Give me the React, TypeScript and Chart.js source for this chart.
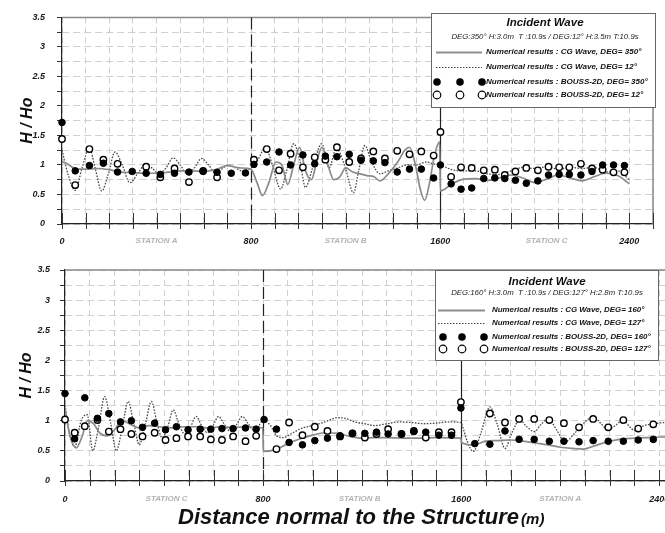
import React, { useEffect, useRef } from 'react';
import { Chart, registerables } from 'chart.js';

Chart.register(...registerables);

const FONT = '"Liberation Sans", Arial, Helvetica, sans-serif';

// ---------- shared ----------
const xTickLabels = [0, 800, 1600, 2400];
const dividers = [800, 1600];
const legendTitle = 'Incident Wave';

// ---------- panel 1 (top) ----------
const p1Stations = ['STATION A', 'STATION B', 'STATION C'];
const p1StationX = [400, 1200, 2050];
const p1LegendSub = 'DEG:350° H:3.0m  T :10.9s / DEG:12° H:3.5m T:10.9s';
const p1LegendLabels = [
  'Numerical results : CG Wave, DEG= 350°',
  'Numerical results : CG Wave, DEG= 12°',
  'Numerical results : BOUSS-2D, DEG= 350°',
  'Numerical results : BOUSS-2D, DEG= 12°',
];

const p1SolidX = [0, 30, 60, 100, 150, 200, 250, 300, 350, 400, 450, 500, 550, 600, 650, 700, 750, 799,
  825, 848, 875, 905, 930, 955, 980, 1005, 1030, 1055, 1080, 1100, 1125, 1150, 1175, 1200, 1230, 1260, 1290, 1320, 1345, 1380, 1420, 1450, 1470, 1495, 1515, 1534, 1555, 1575, 1597,
  1601, 1650, 1700, 1750, 1800, 1850, 1900, 1950, 2000, 2050, 2100, 2150, 2200, 2250, 2300, 2350, 2400];
const p1SolidY = [1.06, 1.0, 0.93, 0.93, 0.94, 0.92, 0.88, 0.87, 0.86, 0.86, 0.88, 0.9, 0.9, 0.89, 0.92, 0.99, 0.95, 0.93,
  0.7, 0.48, 0.7, 1.05, 1.0, 0.67, 1.0, 1.3, 0.9, 0.75, 1.1, 1.3, 1.0, 0.75, 0.8, 0.95, 0.88, 0.85, 0.82, 0.8, 0.73, 0.85, 1.05, 1.25, 1.3, 1.0, 0.6, 0.4, 0.7, 1.15, 1.39,
  0.56, 0.68, 0.76, 0.77, 0.74, 0.78, 0.83, 0.78, 0.7, 0.76, 0.83, 0.78, 0.73, 0.8, 0.86, 0.82, 0.68];

const p1DottedX = [0, 25, 56, 85, 116, 140, 168, 196, 224, 255, 287, 320, 350, 380, 410, 440, 470, 500, 530, 560, 590, 620, 645, 675, 702, 735, 760, 799,
  830, 860, 890, 925, 950, 980, 1005, 1030, 1060, 1099, 1130, 1160, 1195, 1233, 1255, 1281, 1310, 1345, 1380, 1420, 1460, 1500, 1540, 1570, 1599,
  1650, 1700, 1750, 1800, 1850, 1900, 1950, 2000, 2050, 2100, 2150, 2200, 2250, 2300, 2350, 2400];
const p1DottedY = [1.25, 0.85, 0.57, 0.95, 1.29, 0.95, 0.56, 0.85, 1.22, 1.0, 0.7, 0.85, 1.0, 0.95, 0.85, 0.95, 1.12, 1.0, 0.85, 0.95, 1.11, 1.0, 0.88, 0.93, 1.0, 0.95, 0.9, 0.95,
  1.1, 1.3, 1.0, 0.59, 0.9, 1.36, 1.1, 0.62, 0.95, 1.36, 0.95, 1.28, 1.0, 0.53, 0.9, 1.33, 1.05, 0.85, 0.9, 0.95, 1.0, 1.0, 1.05, 1.02, 1.0,
  0.92, 0.9, 0.9, 0.85, 0.84, 0.9, 0.96, 0.94, 0.97, 0.93, 0.96, 0.94, 0.96, 0.88, 0.9, 0.75];

const p1FilledX = [0, 56, 116, 175, 235, 297, 356, 416, 476, 537, 597, 656, 716, 776,
  812, 866, 918, 967, 1019, 1069, 1114, 1163, 1215, 1265, 1317, 1366, 1418, 1470, 1520, 1572, 1601,
  1646, 1688, 1733, 1784, 1831, 1873, 1918, 1964, 2013, 2058, 2103, 2146, 2195, 2242, 2287, 2333, 2379];
const p1FilledY = [1.72, 0.9, 0.99, 1.03, 0.88, 0.89, 0.86, 0.84, 0.86, 0.88, 0.89, 0.875, 0.86, 0.865,
  1.01, 1.05, 1.22, 1.0, 1.17, 1.02, 1.15, 1.14, 1.18, 1.08, 1.07, 1.04, 0.88, 0.93, 0.93, 0.78, 1.0,
  0.68, 0.59, 0.61, 0.77, 0.78, 0.77, 0.74, 0.69, 0.73, 0.83, 0.84, 0.84, 0.83, 0.89, 1.0, 1.0, 0.99];

const p1OpenX = [0, 56, 116, 175, 235, 356, 416, 476, 537, 597, 656,
  812, 866, 918, 967, 1019, 1069, 1114, 1163, 1215, 1265, 1317, 1366, 1418, 1470, 1520, 1572, 1601,
  1646, 1688, 1733, 1784, 1831, 1873, 1918, 1964, 2013, 2058, 2103, 2146, 2195, 2242, 2287, 2333, 2379];
const p1OpenY = [1.44, 0.66, 1.27, 1.09, 1.02, 0.97, 0.79, 0.94, 0.71, 0.9, 0.79,
  1.09, 1.27, 0.91, 1.19, 0.96, 1.13, 1.09, 1.3, 1.05, 1.11, 1.23, 1.11, 1.24, 1.18, 1.23, 1.16, 1.56,
  0.8, 0.96, 0.95, 0.91, 0.92, 0.83, 0.89, 0.95, 0.91, 0.97, 0.96, 0.96, 1.02, 0.94, 0.92, 0.875, 0.875];

// ---------- panel 2 (bottom) ----------
const p2Stations = ['STATION C', 'STATION B', 'STATION A'];
const p2StationX = [410, 1190, 2000];
const p2LegendSub = 'DEG:160° H:3.0m  T :10.9s / DEG:127° H:2.8m T:10.9s';
const p2LegendLabels = [
  'Numerical results : CG Wave, DEG= 160°',
  'Numerical results : CG Wave, DEG= 127°',
  'Numerical results : BOUSS-2D, DEG= 160°',
  'Numerical results : BOUSS-2D, DEG= 127°',
];

const p2SolidX = [0, 20, 46, 70, 90, 115, 140, 170, 200, 230, 260, 300, 340, 380, 430, 480, 530, 580, 630, 680, 730, 799,
  801, 850, 900, 950, 1000, 1050, 1100, 1150, 1200, 1250, 1300, 1400, 1500, 1599,
  1601, 1649, 1700, 1743, 1800, 1850, 1900, 1950, 2000, 2050, 2093, 2150, 2200, 2250, 2300, 2350, 2400, 2460];
const p2SolidY = [1.2, 0.75, 0.55, 0.75, 1.0, 0.95, 0.8, 0.75, 0.85, 1.0, 0.95, 0.88, 0.92, 0.9, 0.88, 0.9, 0.9, 0.88, 0.9, 0.89, 0.9, 0.88,
  0.49, 0.52, 0.62, 0.7, 0.76, 0.8, 0.79, 0.74, 0.71, 0.72, 0.72, 0.71, 0.72, 0.71,
  0.64, 0.6, 0.66, 0.67, 0.68, 0.66, 0.63, 0.6, 0.56, 0.54, 0.53, 0.6, 0.66, 0.7, 0.71, 0.72, 0.73, 0.73];

const p2DottedX = [0, 20, 40, 65, 90, 112, 136, 160, 185, 207, 232, 255, 278, 300, 325, 349, 370, 392, 415, 437, 460, 483, 507, 530, 552, 575, 598, 620, 645, 668, 692, 716, 740, 760, 780, 799,
  801, 830, 854, 880, 920, 960, 1000, 1050, 1100, 1130, 1170, 1210, 1250, 1300, 1350, 1400, 1450, 1500, 1550, 1599,
  1601, 1625, 1649, 1680, 1716, 1745, 1777, 1805, 1837, 1865, 1895, 1925, 1952, 1985, 2019, 2060, 2100, 2133, 2165, 2194, 2225, 2255, 2280, 2300, 2340, 2376, 2420];
const p2DottedY = [1.25, 0.75, 0.57, 1.0, 1.1, 0.5, 0.9, 1.4, 0.95, 0.5, 0.9, 1.32, 0.95, 0.6, 0.95, 1.32, 1.0, 0.72, 0.9, 1.18, 0.95, 0.78, 0.9, 1.07, 0.92, 0.8, 0.92, 1.07, 0.93, 0.82, 0.93, 1.07, 0.95, 0.85, 0.9, 1.0,
  1.0, 0.92, 0.75, 0.72, 0.8, 0.88, 0.92, 0.98, 1.05, 1.04, 0.98, 0.95, 0.92, 0.95, 0.98, 0.97, 0.95, 0.96, 0.98, 0.97,
  0.96, 0.65, 0.49, 0.8, 1.23, 0.95, 0.54, 0.8, 1.01, 0.9, 0.82, 0.95, 1.03, 0.85, 0.65, 0.8, 0.98, 1.07, 0.95, 0.85, 0.93, 1.01, 0.9, 0.84, 0.92, 0.95, 0.97];

const p2FilledX = [0, 39, 80, 131, 177, 224, 268, 313, 362, 406, 450, 497, 546, 589, 634, 679, 729, 772,
  804, 854, 905, 959, 1009, 1060, 1111, 1161, 1211, 1258, 1305, 1359, 1409, 1457, 1510, 1561, 1599,
  1655, 1716, 1777, 1834, 1895, 1956, 2015, 2076, 2133, 2194, 2255, 2315, 2376];
const p2FilledY = [1.45, 0.7, 1.38, 1.04, 1.12, 0.98, 1.0, 0.89, 0.96, 0.85, 0.9, 0.85, 0.86, 0.86, 0.87, 0.87, 0.88, 0.86,
  1.02, 0.86, 0.64, 0.6, 0.67, 0.71, 0.75, 0.79, 0.79, 0.81, 0.78, 0.78, 0.82, 0.81, 0.76, 0.76, 1.21,
  0.62, 0.61, 0.83, 0.69, 0.69, 0.66, 0.66, 0.65, 0.67, 0.66, 0.66, 0.68, 0.69];

const p2OpenX = [0, 39, 80, 131, 177, 224, 268, 313, 362, 406, 450, 497, 546, 589, 634, 679, 729, 772,
  854, 905, 959, 1009, 1060, 1111, 1161, 1211, 1258, 1305, 1359, 1409, 1457, 1510, 1561, 1599,
  1716, 1777, 1834, 1895, 1956, 2015, 2076, 2133, 2194, 2255, 2315, 2376];
const p2OpenY = [1.02, 0.8, 0.91, 1.01, 0.82, 0.86, 0.78, 0.74, 0.8, 0.68, 0.71, 0.74, 0.74, 0.69, 0.68, 0.74, 0.66, 0.75,
  0.53, 0.97, 0.76, 0.9, 0.83, 0.74, 0.79, 0.72, 0.78, 0.86, 0.78, 0.83, 0.72, 0.81, 0.81, 1.31,
  1.12, 0.97, 1.03, 1.03, 1.01, 0.96, 0.89, 1.03, 0.89, 1.01, 0.87, 0.94];

// ---------- helpers ----------
const pts = (xs: number[], ys: number[]) => xs.map((x, i) => ({ x, y: ys[i] }));

type Panel = {
  width: number; height: number;
  axisW: number; xAxisH: number; padTop: number; padRight: number;
  yLabelPad: number; yTitlePad: number; xLabelPad: number; stationDy: number;
  stations: string[]; stationX: number[];
  sub: string; labels: string[];
  legend: any;
  solid: { x: number; y: number }[]; dotted: { x: number; y: number }[];
  filled: { x: number; y: number }[]; open: { x: number; y: number }[];
};

const panel1: Panel = {
  width: 665, height: 250, axisW: 62, xAxisH: 26, padTop: 12, padRight: 8,
  yLabelPad: 12, yTitlePad: 18, xLabelPad: 12, stationDy: 17,
  stations: p1Stations, stationX: p1StationX, sub: p1LegendSub, labels: p1LegendLabels,
  legend: { x: 431, y: 13, w: 224, h: 94, titleX: 114, titleY: 10, subX: 114, subY: 24, rowY: [39, 54, 69, 82], lineX1: 5, lineX2: 51, dotX: [6, 29, 51], textX: 55, textSize: 8.05 },
  solid: pts(p1SolidX, p1SolidY), dotted: pts(p1DottedX, p1DottedY),
  filled: pts(p1FilledX, p1FilledY), open: pts(p1OpenX, p1OpenY),
};

const panel2: Panel = {
  width: 700, height: 283, axisW: 65, xAxisH: 52, padTop: 20, padRight: 16,
  yLabelPad: 10, yTitlePad: 17, xLabelPad: 13, stationDy: 18,
  stations: p2Stations, stationX: p2StationX, sub: p2LegendSub, labels: p2LegendLabels,
  legend: { x: 435, y: 20, w: 223, h: 90, titleX: 112, titleY: 12, subX: 112, subY: 23, rowY: [40, 53, 67, 79], lineX1: 3, lineX2: 50, dotX: [8, 27, 49], textX: 57, textSize: 7.9 },
  solid: pts(p2SolidX, p2SolidY), dotted: pts(p2DottedX, p2DottedY),
  filled: pts(p2FilledX, p2FilledY), open: pts(p2OpenX, p2OpenY),
};

function makePlugin(p: Panel) {
  return {
    id: 'decor',
    beforeDatasetsDraw(chart: any) {
      const { ctx, chartArea: a, scales } = chart;
      const xs = scales.x;
      ctx.save();
      // top / right frame
      ctx.strokeStyle = '#8a8a8a';
      ctx.lineWidth = 1.5;
      ctx.beginPath();
      ctx.moveTo(a.left, a.top);
      ctx.lineTo(a.right, a.top);
      ctx.lineTo(a.right, a.bottom);
      ctx.stroke();
      // station dividers
      dividers.forEach((v, i) => {
        const px = Math.round(xs.getPixelForValue(v)) + 0.5;
        ctx.strokeStyle = '#222';
        ctx.lineWidth = 1.2;
        ctx.setLineDash(i === 0 ? [12, 5] : []);
        ctx.beginPath();
        ctx.moveTo(px, a.top);
        ctx.lineTo(px, a.bottom);
        ctx.stroke();
      });
      ctx.setLineDash([]);
      // crossing ticks on x axis
      ctx.strokeStyle = '#333';
      ctx.lineWidth = 1;
      xs.ticks.forEach((t: any) => {
        const px = Math.round(xs.getPixelForValue(t.value)) + 0.5;
        ctx.beginPath();
        ctx.moveTo(px, a.bottom - 11);
        ctx.lineTo(px, a.bottom + 5);
        ctx.stroke();
      });
      ctx.restore();
    },
    afterDraw(chart: any) {
      const { ctx, chartArea: a, scales } = chart;
      const xs = scales.x;
      ctx.save();
      // station labels
      ctx.fillStyle = '#b3b3b3';
      ctx.font = `italic bold 8px ${FONT}`;
      ctx.textAlign = 'center';
      ctx.textBaseline = 'middle';
      p.stations.forEach((s, i) => {
        ctx.fillText(s, xs.getPixelForValue(p.stationX[i]), a.bottom + p.stationDy);
      });
      // legend box
      const L = p.legend;
      ctx.fillStyle = '#fff';
      ctx.fillRect(L.x, L.y, L.w, L.h);
      ctx.strokeStyle = '#666';
      ctx.lineWidth = 1;
      ctx.strokeRect(L.x + 0.5, L.y + 0.5, L.w, L.h);
      ctx.fillStyle = '#111';
      ctx.textAlign = 'center';
      ctx.font = `italic bold 11.5px ${FONT}`;
      ctx.fillText(legendTitle, L.x + L.titleX, L.y + L.titleY);
      ctx.font = `italic 7.8px ${FONT}`;
      ctx.fillStyle = '#222';
      ctx.fillText(p.sub, L.x + L.subX, L.y + L.subY);
      ctx.textAlign = 'left';
      ctx.font = `italic bold ${L.textSize}px ${FONT}`;
      p.labels.forEach((lab: string, i: number) => {
        const cy = L.y + L.rowY[i];
        if (i === 0 || i === 1) {
          ctx.save();
          ctx.strokeStyle = i === 0 ? '#8d8d8d' : '#444';
          ctx.lineWidth = i === 0 ? 1.8 : 1.1;
          ctx.setLineDash(i === 0 ? [] : [1.5, 1.5]);
          ctx.beginPath();
          ctx.moveTo(L.x + L.lineX1, cy + 0.5);
          ctx.lineTo(L.x + L.lineX2, cy + 0.5);
          ctx.stroke();
          ctx.restore();
        } else {
          L.dotX.forEach((dx: number) => {
            ctx.beginPath();
            ctx.arc(L.x + dx, cy, 3.8, 0, Math.PI * 2);
            if (i === 2) {
              ctx.fillStyle = '#000';
              ctx.fill();
            } else {
              ctx.fillStyle = '#fff';
              ctx.fill();
              ctx.strokeStyle = '#000';
              ctx.lineWidth = 1.2;
              ctx.stroke();
            }
          });
        }
        ctx.fillStyle = '#111';
        ctx.fillText(lab, L.x + L.textX, cy);
      });
      ctx.restore();
    },
  };
}

function makeConfig(p: Panel): any {
  const tickFont = { family: FONT, size: 9, style: 'italic', weight: 'bold' };
  return {
    type: 'scatter',
    data: {
      datasets: [
        { label: 'BOUSS filled', data: p.filled, showLine: false, pointRadius: 3.3, pointBackgroundColor: '#000', pointBorderColor: '#000', pointBorderWidth: 1, order: 0, clip: false },
        { label: 'BOUSS open', data: p.open, showLine: false, pointRadius: 3.2, pointBackgroundColor: '#fff', pointBorderColor: '#000', pointBorderWidth: 1.4, order: 1, clip: false },
        { label: 'CG solid', data: p.solid, showLine: true, pointRadius: 0, borderColor: '#8a8a8a', borderWidth: 1.7, tension: 0.4, cubicInterpolationMode: 'monotone', order: 2 },
        { label: 'CG dotted', data: p.dotted, showLine: true, pointRadius: 0, borderColor: '#4a4a4a', borderWidth: 1.3, borderDash: [1.6, 1.4], tension: 0.4, cubicInterpolationMode: 'monotone', order: 3 },
      ],
    },
    options: {
      responsive: false,
      animation: false,
      devicePixelRatio: 1,
      events: [],
      layout: { padding: { left: 0, right: p.padRight, top: p.padTop, bottom: 0 } },
      plugins: { legend: { display: false }, tooltip: { enabled: false }, title: { display: false } },
      scales: {
        x: {
          type: 'linear', min: 0, max: 2500,
          afterFit: (s: any) => { s.height = p.xAxisH; },
          ticks: {
            stepSize: 100, autoSkip: false, maxRotation: 0, padding: p.xLabelPad, color: '#1a1a1a', font: tickFont,
            callback: (v: number) => (xTickLabels.includes(v) ? String(v) : ''),
          },
          grid: { color: '#cfcfcf', lineWidth: 1, drawTicks: false },
          border: { display: true, color: '#222', width: 1.2, dash: [6, 4] },
        },
        y: {
          type: 'linear', min: 0, max: 3.5,
          afterFit: (s: any) => { s.width = p.axisW; },
          ticks: {
            stepSize: 0.25, autoSkip: false, padding: p.yLabelPad, color: '#1a1a1a', font: tickFont,
            callback: (v: number) => (Math.round(v * 4) % 2 === 0 ? String(v) : ''),
          },
          grid: { color: '#cfcfcf', lineWidth: 1, drawTicks: true, tickLength: 5, tickColor: '#333', tickWidth: 1 },
          border: { display: true, color: '#222', width: 1.2, dash: [7, 4] },
          title: {
            display: true, text: 'H / Ho', color: '#111',
            font: { family: FONT, size: 16, style: 'italic', weight: 'bold' },
            padding: { top: p.yTitlePad, bottom: 0 },
          },
        },
      },
    },
    plugins: [makePlugin(p)],
  };
}

function PanelChart({ p, top }: { p: Panel; top: number }) {
  const ref = useRef<HTMLCanvasElement | null>(null);
  useEffect(() => {
    if (!ref.current) return;
    const chart = new Chart(ref.current, makeConfig(p));
    return () => chart.destroy();
  }, [p]);
  return (
    <canvas
      ref={ref}
      width={p.width}
      height={p.height}
      style={{ position: 'absolute', left: 0, top, width: p.width, height: p.height }}
    />
  );
}

export default function App() {
  return (
    <div style={{ position: 'absolute', left: 0, top: 0, width: 665, height: 533, overflow: 'hidden', background: '#fff' }}>
      <PanelChart p={panel1} top={0} />
      <PanelChart p={panel2} top={250} />
      <div
        style={{
          position: 'absolute', left: 178, top: 506, whiteSpace: 'nowrap',
          fontFamily: FONT, fontStyle: 'italic', fontWeight: 'bold', fontSize: 22, lineHeight: '22px', color: '#111',
        }}
      >
        Distance normal to the Structure
        <span style={{ fontSize: 15, marginLeft: 2 }}>(m)</span>
      </div>
    </div>
  );
}
